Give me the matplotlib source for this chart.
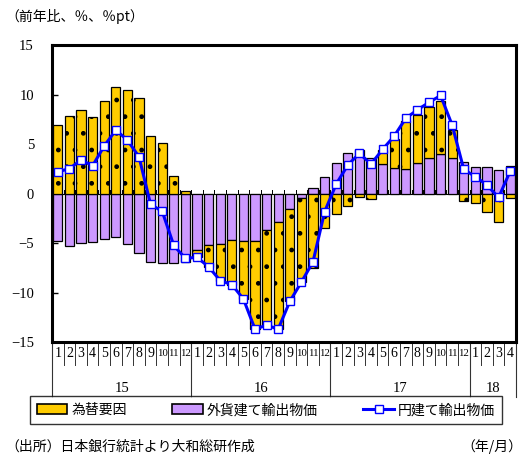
import matplotlib
matplotlib.use("Agg")
import matplotlib.pyplot as plt
import matplotlib.transforms as mtransforms
from matplotlib.patches import Patch
from matplotlib.lines import Line2D
import numpy as np

# ---- data: year-on-year change of export prices (%, %pt), Jan 2015 - Apr 2018 ----
years = ["15", "16", "17", "18"]
months_per_year = [12, 12, 12, 4]
month_labels = [str(m) for n in months_per_year for m in range(1, n + 1)]

# exchange-rate factor (%pt)
fx_factor = [6.9, 7.8, 8.4, 7.7, 9.3, 10.8, 10.5, 9.6, 5.8, 5.1, 1.75, 0.3,
             -0.75, -2.15, -3.7, -4.5, -5.85, -8.9, -9.65, -10.8, -9.3, -8.45, -7.5, -3.45,
             -2.1, -1.25, -0.35, -0.58, 1.4, 2.9, 4.85, 4.85, 5.1, 5.4, 2.85, -0.75,
             -0.95, -1.9, -2.85, -0.5]
# export prices on a contract-currency basis (%)
contract_ccy = [-4.8, -5.35, -5.0, -4.9, -4.6, -4.4, -5.1, -6.0, -6.9, -7.0, -7.0, -6.9,
                -5.7, -5.25, -5.1, -4.7, -4.8, -4.8, -3.65, -2.9, -1.6, -0.5, 0.6, 1.7,
                3.1, 4.05, 4.4, 3.55, 2.95, 2.6, 2.43, 3.1, 3.6, 3.95, 3.55, 3.15,
                2.64, 2.7, 2.37, 2.75]
# export prices on a yen basis (%)
yen_basis = [2.2, 2.5, 3.4, 2.8, 4.8, 6.4, 5.4, 3.7, -1.1, -1.8, -5.25, -6.55,
             -6.45, -7.4, -8.8, -9.2, -10.65, -13.7, -13.3, -13.7, -10.9, -8.95, -6.9, -1.85,
             0.95, 2.87, 4.05, 2.97, 4.45, 5.8, 7.6, 8.45, 9.2, 9.9, 6.9, 2.43,
             1.7, 0.85, -0.4, 2.26]

# ---- styling ----
SERIF = ["Liberation Serif", "DejaVu Serif"]
JP = ["Noto Sans CJK JP", "DejaVu Sans"]
ORANGE = "#FFCC00"
PURPLE = "#CC99FF"
BLUE = "#0000FF"
plt.rcParams["hatch.linewidth"] = 1.0

W, H = 531, 461
fig = plt.figure(figsize=(W / 100, H / 100), dpi=100)
ax = fig.add_axes([52 / W, 119 / H, 464 / W, 297 / H])

x = np.arange(len(month_labels))
fx = np.array(fx_factor)
cc = np.array(contract_ccy)

# contract-currency part sits next to zero; exchange factor stacks on it when same sign
fx_bottom = np.where(np.sign(fx) == np.sign(cc), cc, 0.0)

ax.axhline(0, color="black", lw=0.8, zorder=1)
bw = 0.8
ax.bar(x, cc, width=bw, color=PURPLE, edgecolor="black", linewidth=0.9, zorder=2)
ax.bar(x, fx, bottom=fx_bottom, width=bw, color=ORANGE, edgecolor="black",
       linewidth=0.9, hatch=".", zorder=2)
ax.plot(x, yen_basis, color=BLUE, lw=2.2, marker="s", markersize=6,
        markerfacecolor="white", markeredgecolor=BLUE, markeredgewidth=1.0, zorder=4)

# small ticks on the zero line between months
for b in np.arange(-0.5, len(x), 1.0):
    ax.plot([b, b], [0, 0.4], color="black", lw=0.7, zorder=1)

ax.set_xlim(-0.5, len(x) - 0.5)
ax.set_ylim(-15, 15)
ax.set_yticks(range(-15, 16, 5))
ax.set_yticklabels([("\u2212" + str(-v)) if v < 0 else str(v) for v in range(-15, 16, 5)],
                   fontfamily=SERIF, fontsize=10.5)
ax.tick_params(axis="y", direction="in", length=4, width=1, pad=13)
ax.set_xticks([])
for s in ax.spines.values():
    s.set_linewidth(2.2)
    s.set_color("black")

# category table below the plot: months, then years
trans = mtransforms.blended_transform_factory(ax.transData, ax.transAxes)
for i, lab in enumerate(month_labels):
    # two-digit months are set a little smaller so they stay inside their cell
    ax.text(i, -0.04, lab, transform=trans, ha="center", va="center",
            fontfamily=SERIF, fontsize=10 if len(lab) == 1 else 7.8, clip_on=False)
for b in np.arange(0.5, len(x) - 1, 1.0):
    ax.plot([b, b], [0, -0.077], transform=trans, color="#333333", lw=0.7, clip_on=False)
edges = np.concatenate([[0], np.cumsum(months_per_year)]) - 0.5
for e in edges:
    ax.plot([e, e], [0, -0.185], transform=trans, color="#333333", lw=0.8, clip_on=False)
for y_lab, a, b in zip(years, edges[:-1], edges[1:]):
    ax.text((a + b) / 2, -0.155, y_lab, transform=trans, ha="center", va="center",
            fontfamily=SERIF, fontsize=10.5, clip_on=False)

# legend
handles = [
    Patch(facecolor=ORANGE, edgecolor="black", linewidth=1.2, hatch="."),
    Patch(facecolor=PURPLE, edgecolor="black", linewidth=1.2),
    Line2D([], [], color=BLUE, lw=2.2, marker="s", markersize=6,
           markerfacecolor="white", markeredgecolor=BLUE),
]
labels = ["為替要因", "外貨建て輸出物価", "円建て輸出物価"]
leg = fig.legend(handles, labels, loc="lower left",
                 bbox_to_anchor=(23 / W, 30 / H, 486 / W, 33 / H), mode="expand",
                 ncol=3, frameon=True, fancybox=False, borderpad=0.5,
                 handlelength=2.2, handletextpad=0.3, columnspacing=1.5,
                 prop={"family": JP, "size": 10})
leg.get_frame().set_edgecolor("black")
leg.get_frame().set_linewidth(1.0)

fig.text(5 / W, 1 - 16 / H, "（前年比、％、％pt）", ha="left", va="center",
         fontfamily=JP, fontsize=10)
fig.text(5 / W, 1 - 447 / H, "（出所）日本銀行統計より大和総研作成", ha="left", va="center",
         fontfamily=JP, fontsize=10)
fig.text(522 / W, 1 - 447 / H, "（年/月）", ha="right", va="center",
         fontfamily=JP, fontsize=10)

fig.savefig("out.png", dpi=100)
